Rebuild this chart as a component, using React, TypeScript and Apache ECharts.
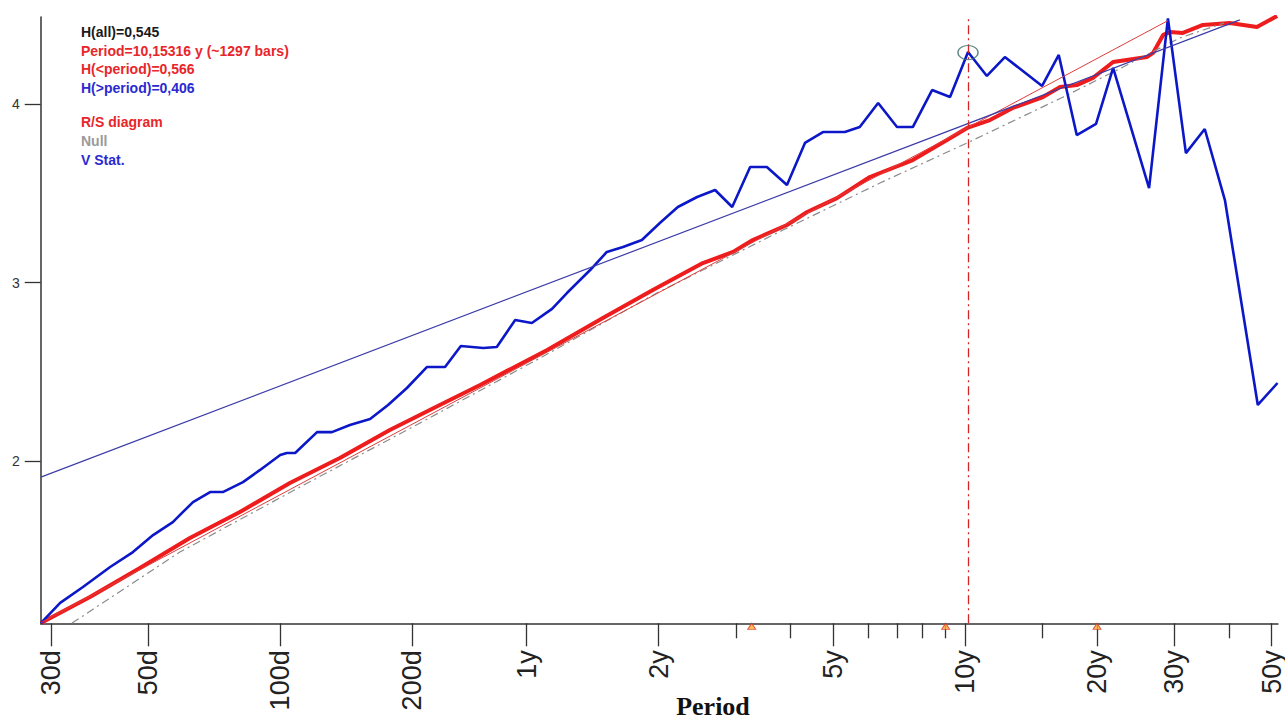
import React, { useEffect, useRef } from "react";
import * as echarts from "echarts";

// ---- data (x = log10(period in days), y = log value) ----
const DAYS_PER_YEAR = 365;

const majorTickDays = [30, 50, 100, 200, 365, 730, 1825, 3650, 7300, 10950, 18250];
const majorTickLabels = ["30d", "50d", "100d", "200d", "1y", "2y", "5y", "10y", "20y", "30y", "50y"];
const minorTickYears = [3, 4, 6, 7, 8, 9, 15, 40];
const yTickValues = [2, 3, 4];

const rsDiagram = [
  [1.454, 1.092], [1.566, 1.238], [1.68, 1.401], [1.794, 1.569], [1.908, 1.714],
  [2.022, 1.877], [2.136, 2.017], [2.25, 2.174], [2.364, 2.314], [2.456, 2.426],
  [2.609, 2.622], [2.736, 2.801], [2.85, 2.958], [2.964, 3.109], [3.033, 3.171],
  [3.078, 3.238], [3.156, 3.322], [3.202, 3.395], [3.27, 3.473], [3.345, 3.591],
  [3.443, 3.686], [3.521, 3.798], [3.567, 3.866], [3.619, 3.91], [3.671, 3.978],
  [3.74, 4.039], [3.779, 4.095], [3.817, 4.106], [3.854, 4.146], [3.9, 4.235],
  [3.977, 4.263], [3.991, 4.286], [4.014, 4.387], [4.03, 4.403], [4.059, 4.398],
  [4.105, 4.443], [4.166, 4.454], [4.228, 4.431], [4.274, 4.493],
];

const nullLine = [
  [1.525, 1.092], [1.771, 1.49], [2.045, 1.854], [2.319, 2.213], [2.593, 2.577],
  [2.859, 2.941], [3.147, 3.294], [3.368, 3.557], [3.567, 3.782], [3.786, 4.039],
  [3.9, 4.179], [4.052, 4.37], [4.153, 4.454],
];

const vStat = [
  [1.454, 1.092], [1.498, 1.205], [1.55, 1.294], [1.612, 1.406], [1.664, 1.49],
  [1.71, 1.585], [1.755, 1.658], [1.776, 1.709], [1.801, 1.77], [1.84, 1.826],
  [1.869, 1.826], [1.915, 1.882], [1.954, 1.95], [2.0, 2.034], [2.015, 2.045],
  [2.034, 2.045], [2.084, 2.162], [2.118, 2.162], [2.159, 2.202], [2.205, 2.235],
  [2.246, 2.314], [2.289, 2.409], [2.335, 2.527], [2.376, 2.527], [2.412, 2.644],
  [2.463, 2.633], [2.494, 2.639], [2.536, 2.79], [2.574, 2.773], [2.62, 2.852],
  [2.654, 2.941], [2.707, 3.07], [2.745, 3.171], [2.782, 3.199], [2.825, 3.238],
  [2.866, 3.333], [2.907, 3.423], [2.951, 3.479], [2.992, 3.518], [3.031, 3.423],
  [3.072, 3.647], [3.11, 3.647], [3.156, 3.546], [3.197, 3.782], [3.238, 3.843],
  [3.288, 3.843], [3.322, 3.871], [3.364, 4.006], [3.407, 3.871], [3.443, 3.871],
  [3.487, 4.078], [3.528, 4.039], [3.569, 4.291], [3.612, 4.157], [3.653, 4.263],
  [3.738, 4.101], [3.776, 4.275], [3.817, 3.826], [3.861, 3.888], [3.9, 4.202],
  [3.982, 3.529], [4.025, 4.48], [4.066, 3.725], [4.109, 3.86], [4.155, 3.462],
  [4.23, 2.314], [4.275, 2.437],
];

const shortFit = [[1.454, 1.095], [4.025, 4.467]];
const longFit = [[1.454, 1.91], [4.189, 4.471]];

const cyclePeriodYears = 10.15316;
const cycleMarkerValue = 4.288;
const triangleYears = [3.26, 9.03, 20];

const infoTexts = [
  "H(all)=0,545",
  "Period=10,15316 y (~1297 bars)",
  "H(<period)=0,566",
  "H(>period)=0,406",
  "R/S diagram",
  "Null",
  "V Stat.",
];
const axisTitle = "Period";

// ---- axis extents ----
const X_MIN = 1.4536;
const X_MAX = 4.2759;
const Y_MIN = 1.0908;
const Y_MAX = 4.4874;

export default function App() {
  const ref = useRef<HTMLDivElement>(null);

  useEffect(() => {
    if (!ref.current) return;
    const chart = echarts.init(ref.current, null, { renderer: "svg" });
    const lg = (d: number) => Math.log10(d);
    const majorVals = majorTickDays.map(lg);
    const minorVals = minorTickYears.map((y) => lg(y * DAYS_PER_YEAR));
    const cycleX = lg(cyclePeriodYears * DAYS_PER_YEAR);

    const infoColors = ["#1a1a1a", "#e8262a", "#e8262a", "#2a2ad0", "#e8262a", "#9a9a9a", "#2a2ad0"];
    const infoY = [32, 51, 69, 88, 122, 141, 160];
    const font = "Liberation Sans, Arial, sans-serif";

    chart.setOption({
      animation: false,
      backgroundColor: "#ffffff",
      grid: { left: 40.7, top: 17, width: 1237.3, height: 606.3 },
      xAxis: [
        {
          type: "value",
          min: X_MIN,
          max: X_MAX,
          position: "bottom",
          axisLine: { show: true, lineStyle: { color: "#333", width: 1.5 } },
          axisTick: {
            show: true,
            length: 23,
            customValues: majorVals,
            lineStyle: { color: "#333", width: 1.3 },
          },
          axisLabel: {
            show: true,
            customValues: majorVals,
            rotate: 90,
            margin: 27,
            fontSize: 27,
            fontFamily: font,
            color: "#222",
            formatter: (v: number) => {
              const i = majorVals.findIndex((m) => Math.abs(m - v) < 1e-6);
              return i >= 0 ? majorTickLabels[i] : "";
            },
          },
          splitLine: { show: false },
        },
        {
          type: "value",
          min: X_MIN,
          max: X_MAX,
          position: "bottom",
          axisLine: { show: false },
          axisTick: {
            show: true,
            length: 15,
            customValues: minorVals,
            lineStyle: { color: "#333", width: 1.3 },
          },
          axisLabel: { show: false },
          splitLine: { show: false },
        },
      ],
      yAxis: {
        type: "value",
        min: Y_MIN,
        max: Y_MAX,
        axisLine: { show: true, lineStyle: { color: "#333", width: 1.5 } },
        axisTick: {
          show: true,
          length: 16,
          customValues: yTickValues,
          lineStyle: { color: "#333", width: 1.3 },
        },
        axisLabel: {
          show: true,
          customValues: yTickValues,
          margin: 21,
          fontSize: 14,
          fontFamily: font,
          color: "#333",
        },
        splitLine: { show: false },
      },
      series: [
        {
          name: "R/S diagram",
          type: "line",
          data: rsDiagram,
          symbol: "none",
          lineStyle: { color: "#ee1c1c", width: 4 },
          z: 2,
        },
        {
          name: "Null",
          type: "line",
          data: nullLine,
          symbol: "none",
          lineStyle: { color: "#8c8c8c", width: 1.2, type: [8, 4, 2, 4] },
          z: 3,
        },
        {
          name: "V Stat.",
          type: "line",
          data: vStat,
          symbol: "none",
          lineStyle: { color: "#0c18c8", width: 2.6 },
          z: 3,
          markLine: {
            silent: true,
            symbol: ["none", "none"],
            label: { show: false },
            lineStyle: { color: "#d42424", width: 1.3, type: [9, 4, 2, 4] },
            data: [{ xAxis: cycleX }],
          },
        },
        {
          name: "H(<period) fit",
          type: "line",
          data: shortFit,
          symbol: "none",
          lineStyle: { color: "#e03c3c", width: 1 },
          z: 4,
        },
        {
          name: "H(>period) fit",
          type: "line",
          data: longFit,
          symbol: "none",
          lineStyle: { color: "#3c3ca8", width: 1.2 },
          z: 4,
        },
        {
          name: "Cycle",
          type: "scatter",
          data: [[cycleX, cycleMarkerValue]],
          symbol: "circle",
          symbolSize: [20, 14],
          itemStyle: { color: "rgba(0,0,0,0)", borderColor: "#3f6f6c", borderWidth: 1.3 },
          z: 5,
        },
        {
          name: "Marks",
          type: "scatter",
          clip: false,
          data: triangleYears.map((y) => [lg(y * DAYS_PER_YEAR), Y_MIN - 0.017]),
          symbol: "triangle",
          symbolSize: [8, 6],
          itemStyle: { color: "#ffab2e", borderColor: "#d83a2a", borderWidth: 1 },
          z: 6,
        },
      ],
      graphic: [
        ...infoTexts.map((t, i) => ({
          type: "text",
          x: 81,
          y: infoY[i],
          style: {
            text: t,
            fill: infoColors[i],
            fontSize: 14,
            fontWeight: "bold",
            fontFamily: font,
            textVerticalAlign: "middle",
            verticalAlign: "middle",
          },
          z: 10,
        })),
        {
          type: "text",
          x: 713,
          y: 706,
          style: {
            text: axisTitle,
            fill: "#111",
            fontSize: 26,
            fontWeight: "bold",
            fontFamily: "Liberation Serif, Times New Roman, serif",
            align: "center",
            textAlign: "center",
            verticalAlign: "middle",
            textVerticalAlign: "middle",
          },
          z: 10,
        },
      ],
    });

    return () => chart.dispose();
  }, []);

  return (
    <div
      ref={ref}
      style={{ position: "absolute", left: 0, top: 0, width: 1285, height: 720, background: "#fff" }}
    />
  );
}
